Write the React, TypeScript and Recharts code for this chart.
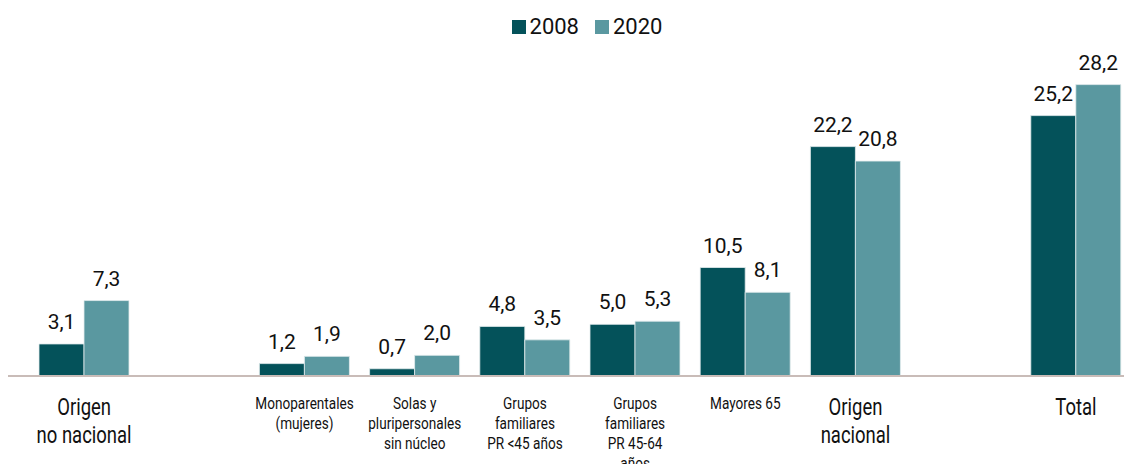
import { BarChart, Bar, XAxis, YAxis, Legend, LabelList } from 'recharts';

const categories = [
  'Origen\nno nacional',
  '',
  'Monoparentales\n(mujeres)',
  'Solas y\npluripersonales\nsin núcleo',
  'Grupos\nfamiliares\nPR <45 años',
  'Grupos\nfamiliares\nPR 45-64\naños',
  'Mayores 65',
  'Origen\nnacional',
  ' ',
  'Total'
];
const values2008 = [3.1, null, 1.2, 0.7, 4.8, 5.0, 10.5, 22.2, null, 25.2];
const values2020 = [7.3, null, 1.9, 2.0, 3.5, 5.3, 8.1, 20.8, null, 28.2];
const largeLabels = ['Origen\nno nacional', 'Origen\nnacional', 'Total'];

const series = [
  { key: 'y2008', name: '2008', color: '#04525a' },
  { key: 'y2020', name: '2020', color: '#5a98a0' }
];

const chartData = categories.map((name, i) => ({
  name,
  y2008: values2008[i],
  y2020: values2020[i]
}));

const FONT = "Roboto, 'Liberation Sans', sans-serif";

const formatValue = (v: any) => (v == null ? '' : Number(v).toFixed(1).replace('.', ','));

// no condensed font available, so squeeze the text horizontally
function CategoryTick(props: any) {
  const { x, y, payload } = props;
  const label: string = payload.value || '';
  if (!label.trim()) return null;
  const large = largeLabels.includes(label);
  const lines = label.split('\n');
  const size = large ? 24 : 17;
  const lineHeight = large ? 28 : 20;
  const first = large ? 39 : 33;
  return (
    <g transform={`translate(${x},${y})`}>
      <text
        transform={`scale(${large ? 0.77 : 0.8},1)`}
        textAnchor="middle"
        fill="#111"
        fontSize={size}
        fontFamily={FONT}
      >
        {lines.map((line, i) => (
          <tspan key={i} x={0} y={first + i * lineHeight}>
            {line}
          </tspan>
        ))}
      </text>
    </g>
  );
}

function ChartLegend() {
  return (
    <div
      style={{
        height: 50,
        display: 'flex',
        justifyContent: 'center',
        alignItems: 'flex-start',
        paddingLeft: 34,
        fontFamily: FONT,
        fontSize: 22,
        color: '#111',
        lineHeight: '22px'
      }}
    >
      {series.map((s, i) => (
        <div key={s.key} style={{ display: 'flex', alignItems: 'center', marginLeft: i ? 16 : 0 }}>
          <span style={{ width: 14, height: 14, background: s.color, marginRight: 4, display: 'inline-block' }} />
          <span>{s.name}</span>
        </div>
      ))}
    </div>
  );
}

export default function App() {
  return (
    <div style={{ width: 1124, height: 464, marginBottom: -8, fontFamily: FONT }}>
      <BarChart
        width={1124}
        height={464}
        data={chartData}
        margin={{ top: 8, right: 0, bottom: 0, left: 0 }}
        barCategoryGap={10}
        barGap={0}
      >
        <Legend verticalAlign="top" align="center" content={<ChartLegend />} />
        <XAxis
          dataKey="name"
          interval={0}
          height={96}
          tickLine={false}
          tickSize={0}
          tickMargin={0}
          padding={{ left: 21, right: 1 }}
          axisLine={{ stroke: '#c9bcb8', strokeWidth: 2 }}
          tick={<CategoryTick />}
        />
        <YAxis hide domain={[0, 30]} />
        {series.map((s) => (
          <Bar
            key={s.key}
            dataKey={s.key}
            name={s.name}
            fill={s.color}
            stroke="#e3eced"
            strokeWidth={0.8}
            isAnimationActive={false}
          >
            <LabelList
              dataKey={s.key}
              position="top"
              offset={15}
              formatter={formatValue}
              fill="#111"
              fontSize={21}
              fontFamily={FONT}
            />
          </Bar>
        ))}
      </BarChart>
    </div>
  );
}
